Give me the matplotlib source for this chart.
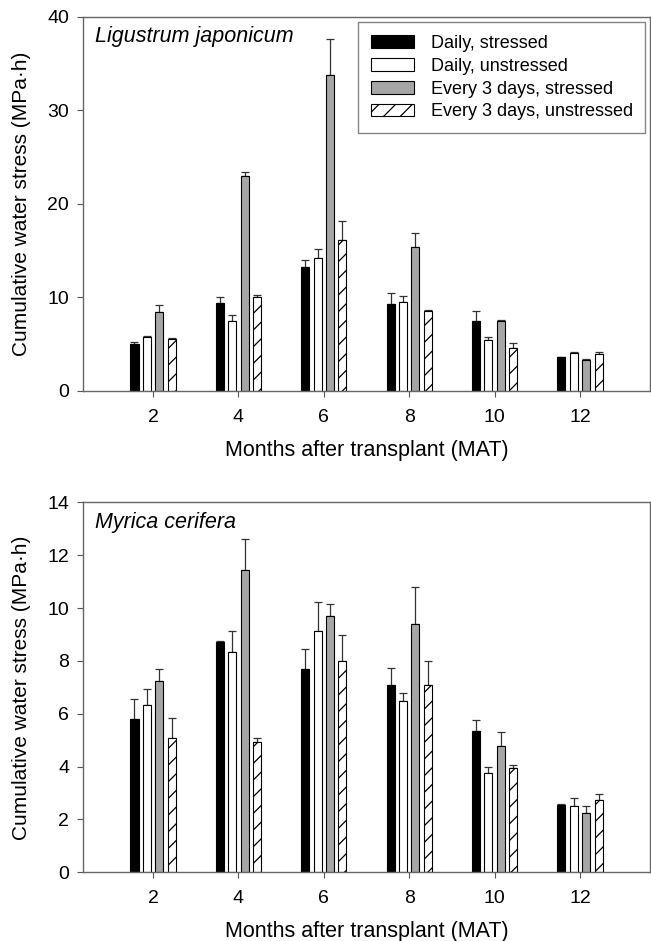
import numpy as np
import matplotlib
matplotlib.use("Agg")
import matplotlib.pyplot as plt
from matplotlib.patches import Patch

plt.rcParams['font.family'] = ['Liberation Sans', 'DejaVu Sans']
plt.rcParams['hatch.linewidth'] = 0.9

# months after transplant
months = [2, 4, 6, 8, 10, 12]
series = ["Daily, stressed", "Daily, unstressed",
          "Every 3 days, stressed", "Every 3 days, unstressed"]

# Ligustrum japonicum: means and (upper) standard errors
lig_ds = [5.0, 9.4, 13.3, 9.3, 7.5, 3.6]
lig_du = [5.8, 7.5, 14.2, 9.5, 5.4, 4.1]
lig_es = [8.4, 23.0, 33.8, 15.4, 7.5, 3.3]
lig_eu = [5.6, 10.0, 16.1, 8.6, 4.6, 4.0]
lig_ds_err = [0.2, 0.7, 0.7, 1.2, 1.1, 0.05]
lig_du_err = [0.1, 0.6, 1.0, 0.7, 0.35, 0.1]
lig_es_err = [0.8, 0.4, 3.8, 1.5, 0.1, 0.1]
lig_eu_err = [0.1, 0.25, 2.1, 0.1, 0.55, 0.2]

# Myrica cerifera
myr_ds = [5.8, 8.7, 7.7, 7.1, 5.35, 2.55]
myr_du = [6.35, 8.35, 9.15, 6.5, 3.75, 2.52]
myr_es = [7.25, 11.45, 9.7, 9.4, 4.8, 2.25]
myr_eu = [5.1, 4.95, 8.0, 7.1, 3.95, 2.75]
myr_ds_err = [0.75, 0.07, 0.75, 0.65, 0.4, 0.03]
myr_du_err = [0.6, 0.8, 1.1, 0.3, 0.25, 0.28]
myr_es_err = [0.45, 1.15, 0.45, 1.4, 0.5, 0.27]
myr_eu_err = [0.75, 0.12, 1.0, 0.9, 0.12, 0.2]

colors = ["black", "white", "#a6a6a6", "white"]
hatches = [None, None, None, "//"]


def panel(ax, vals, errs, ymax, ystep, label):
    x = np.array(months, dtype=float)
    step = 0.29
    width = 0.19
    for i, (v, e) in enumerate(zip(vals, errs)):
        xi = x + (i - 1.5) * step
        ax.bar(xi, v, width=width, color=colors[i], edgecolor="black",
               linewidth=0.8, hatch=hatches[i], zorder=2)
        ax.errorbar(xi, v, yerr=[np.zeros(len(e)), e], fmt="none",
                    ecolor="#333333", elinewidth=0.9, capsize=3,
                    capthick=0.9, zorder=1)
    ax.set_xlim(0.36, 13.64)
    ax.set_ylim(0, ymax)
    ax.set_xticks(months)
    ax.set_yticks(np.arange(0, ymax + 0.1, ystep))
    ax.tick_params(labelsize=14, length=4, color="#555555", width=0.8)
    ax.tick_params(axis="x", pad=9)
    ax.tick_params(axis="y", pad=6)
    for s in ax.spines.values():
        s.set_color("#666666")
        s.set_linewidth(1.0)
    ax.set_xlabel("Months after transplant (MAT)", fontsize=15.5, labelpad=10)
    ax.set_ylabel("Cumulative water stress (MPa\u00b7h)", fontsize=15, labelpad=12)
    ax.text(0.022, 0.975, label, transform=ax.transAxes, fontsize=15.5,
            style="italic", va="top", ha="left")


fig = plt.figure(figsize=(6.51, 9.41), dpi=100)
ax1 = fig.add_axes([0.1275, 0.5845, 0.871, 0.3975])
ax2 = fig.add_axes([0.1275, 0.073, 0.871, 0.393])

panel(ax1, [lig_ds, lig_du, lig_es, lig_eu],
      [lig_ds_err, lig_du_err, lig_es_err, lig_eu_err], 40, 10,
      "Ligustrum japonicum")
panel(ax2, [myr_ds, myr_du, myr_es, myr_eu],
      [myr_ds_err, myr_du_err, myr_es_err, myr_eu_err], 14, 2,
      "Myrica cerifera")

handles = [Patch(facecolor=colors[i], edgecolor="black", linewidth=0.8,
                 hatch=hatches[i], label=series[i]) for i in range(4)]
leg = ax1.legend(handles=handles, loc="upper right", bbox_to_anchor=(0.995, 0.99),
                 fontsize=13, frameon=True, fancybox=False, handlelength=2.4,
                 handleheight=0.7, handletextpad=0.9, labelspacing=0.32,
                 borderpad=0.7, borderaxespad=0.1)
leg.get_frame().set_edgecolor("#666666")
leg.get_frame().set_linewidth(1.0)

fig.savefig("out.png", dpi=100)
